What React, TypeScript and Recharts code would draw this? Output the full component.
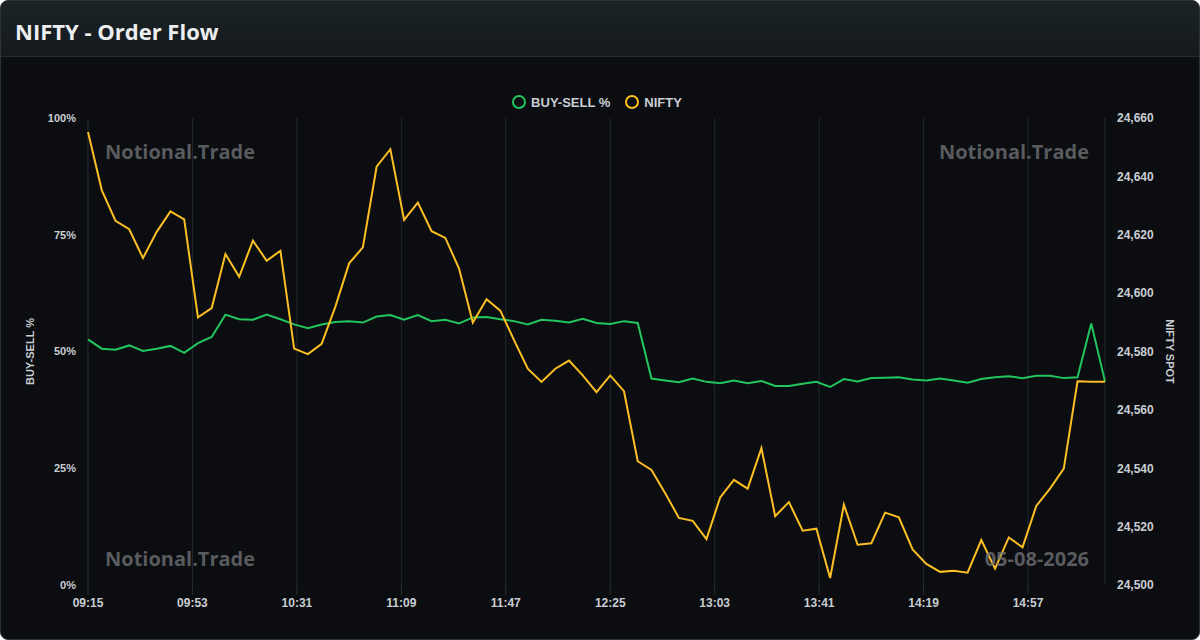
import { ComposedChart, Line, XAxis, YAxis, CartesianGrid, Legend } from 'recharts';

// 5-minute snapshots for the session
const times = [
  '09:15', '09:20', '09:25', '09:30', '09:35', '09:40', '09:45', '09:50', '09:55',
  '10:00', '10:05', '10:10', '10:15', '10:20', '10:25', '10:30', '10:35', '10:40', '10:45', '10:50', '10:55',
  '11:00', '11:05', '11:10', '11:15', '11:20', '11:25', '11:30', '11:35', '11:40', '11:45', '11:50', '11:55',
  '12:00', '12:05', '12:10', '12:15', '12:20', '12:25', '12:30', '12:35', '12:40', '12:45', '12:50', '12:55',
  '13:00', '13:05', '13:10', '13:15', '13:20', '13:25', '13:30', '13:35', '13:40', '13:45', '13:50', '13:55',
  '14:00', '14:05', '14:10', '14:15', '14:20', '14:25', '14:30', '14:35', '14:40', '14:45', '14:50', '14:55',
  '15:00', '15:05', '15:10', '15:15', '15:20', '15:25',
];

const buySellPct = [
  52.6, 50.6, 50.4, 51.3, 50.1, 50.6, 51.2, 49.7, 51.8,
  53.1, 57.9, 56.9, 56.8, 57.9, 56.9, 55.8, 55.0, 55.8, 56.3, 56.5, 56.2,
  57.5, 57.8, 56.8, 57.8, 56.5, 56.8, 56.0, 57.3, 57.4, 56.9, 56.5, 55.8,
  56.8, 56.6, 56.2, 57.0, 56.1, 55.9, 56.5, 56.1, 44.2, 43.8, 43.4, 44.2,
  43.5, 43.2, 43.8, 43.2, 43.7, 42.6, 42.6, 43.1, 43.5, 42.4, 44.1, 43.6,
  44.3, 44.4, 44.5, 44.0, 43.8, 44.2, 43.8, 43.3, 44.1, 44.5, 44.7, 44.3,
  44.8, 44.8, 44.3, 44.5, 56.0, 43.6,
];

const niftySpot = [
  24655.2, 24635.3, 24624.8, 24621.9, 24612.0, 24621.0, 24628.0, 24625.3, 24591.7,
  24594.9, 24613.4, 24605.6, 24618.0, 24611.1, 24614.5, 24581.0, 24579.1, 24582.6, 24595.4, 24610.2, 24615.7,
  24643.3, 24649.3, 24625.1, 24631.0, 24621.2, 24618.9, 24608.4, 24589.9, 24597.9, 24594.0, 24583.9, 24574.1,
  24569.6, 24574.1, 24576.9, 24571.8, 24566.1, 24571.8, 24566.4, 24542.4, 24539.4, 24531.4, 24523.0, 24522.0,
  24515.7, 24530.0, 24536.0, 24533.0, 24546.9, 24523.6, 24528.4, 24518.6, 24519.3, 24502.4, 24527.5, 24513.8,
  24514.3, 24524.8, 24523.2, 24512.2, 24507.2, 24504.5, 24504.9, 24504.2, 24515.4, 24505.6, 24516.3, 24512.9,
  24527.1, 24533.0, 24539.9, 24569.8, 24569.6, 24569.6,
];

const xTickLabels = ['09:15', '09:53', '10:31', '11:09', '11:47', '12:25', '13:03', '13:41', '14:19', '14:57'];
const pctTicks = [0, 25, 50, 75, 100];
const spotTicks = [24500, 24520, 24540, 24560, 24580, 24600, 24620, 24640, 24660];

const GREEN = '#22c55e';
const AMBER = '#fbbf24';
const TICK = '#c9cdd3';
const SANS = '"Liberation Sans", Arial, sans-serif';

// "HH:MM" -> minutes since midnight
const toMinutes = (t: string) => {
  const [h, m] = t.split(':').map(Number);
  return h * 60 + m;
};
const fromMinutes = (v: number) =>
  `${String(Math.floor(v / 60)).padStart(2, '0')}:${String(v % 60).padStart(2, '0')}`;

const chartData = times.map((t, i) => ({
  minute: toMinutes(t),
  buySell: buySellPct[i],
  nifty: niftySpot[i],
}));

function LegendContent({ payload }: any) {
  return (
    <div style={{ display: 'flex', justifyContent: 'center', gap: 14, height: 24, fontFamily: SANS, fontSize: 13, fontWeight: 700, color: '#c9ced6' }}>
      {(payload || []).map((p: any) => (
        <span key={p.value} style={{ display: 'flex', alignItems: 'center', gap: 4, height: 16 }}>
          <svg width={16} height={16}>
            <circle cx={8} cy={8} r={6} fill="none" stroke={p.color} strokeWidth={2} />
          </svg>
          <span>{p.value}</span>
        </span>
      ))}
    </div>
  );
}

// rotated axis title (left reads bottom-up, right reads top-down)
function AxisTitle({ viewBox, text, side }: any) {
  if (!viewBox) return null;
  const cx = side === 'left' ? viewBox.x + 2 : viewBox.x + viewBox.width + 5;
  const cy = viewBox.y + viewBox.height / 2;
  return (
    <text
      x={cx}
      y={cy}
      transform={`rotate(${side === 'left' ? -90 : 90} ${cx} ${cy})`}
      textAnchor="middle"
      dominantBaseline="central"
      fill={TICK}
      fontFamily={SANS}
      fontSize={11}
      fontWeight={700}
    >
      {text}
    </text>
  );
}

const watermark = {
  position: 'absolute' as const,
  fontFamily: '"Open Sans", sans-serif',
  fontWeight: 700,
  fontSize: 20,
  lineHeight: '20px',
  color: 'rgba(112, 114, 118, 0.78)',
  pointerEvents: 'none' as const,
  whiteSpace: 'nowrap' as const,
};

export default function App() {
  return (
    <div style={{ position: 'absolute', top: 0, left: 0, width: 1200, height: 640 }}>
      <div
        style={{
          position: 'relative',
          width: 1200,
          height: 640,
          boxSizing: 'border-box',
          border: '1px solid #2c3237',
          borderRadius: 8,
          background: '#0b0d10',
          overflow: 'hidden',
        }}
      >
        <div
          style={{
            height: 56,
            boxSizing: 'border-box',
            background: 'linear-gradient(180deg, #1c2327 0%, #141a1d 100%)',
            borderBottom: '1px solid #262d31',
            paddingLeft: 14,
            paddingTop: 5,
            display: 'flex',
            alignItems: 'center',
            fontFamily: '"Open Sans", sans-serif',
            fontWeight: 700,
            fontSize: 22,
            color: '#eceef0',
          }}
        >
          NIFTY - Order Flow
        </div>

        <div style={{ position: 'absolute', top: -1, left: -1 }}>
          <ComposedChart width={1200} height={640} data={chartData} margin={{ top: 94, right: 35, left: 28, bottom: 25 }}>
            <CartesianGrid yAxisId="pct" horizontal={false} stroke="#24282d" />
            <XAxis
              dataKey="minute"
              type="number"
              domain={[toMinutes(times[0]), toMinutes(times[times.length - 1])]}
              ticks={xTickLabels.map(toMinutes)}
              tickFormatter={fromMinutes}
              interval={0}
              axisLine={false}
              tickLine={{ stroke: '#2a2f35' }}
              tickSize={10}
              tickMargin={3}
              height={30}
              tick={{ fill: TICK, fontSize: 12, fontWeight: 700, fontFamily: SANS }}
            />
            <YAxis
              yAxisId="pct"
              domain={[0, 100]}
              ticks={pctTicks}
              tickFormatter={(v: number) => `${v}%`}
              axisLine={false}
              tickLine={false}
              tickMargin={6}
              width={60}
              tick={{ fill: TICK, fontSize: 11, fontWeight: 700, fontFamily: SANS }}
              label={<AxisTitle side="left" text="BUY-SELL %" />}
            />
            <YAxis
              yAxisId="spot"
              orientation="right"
              domain={[24500, 24660]}
              ticks={spotTicks}
              tickFormatter={(v: number) => v.toLocaleString('en-US')}
              axisLine={false}
              tickLine={false}
              tickMargin={6}
              width={60}
              tick={{ fill: TICK, fontSize: 12, fontWeight: 700, fontFamily: SANS }}
              label={<AxisTitle side="right" text="NIFTY SPOT" />}
            />
            <Legend verticalAlign="top" align="center" content={<LegendContent />} />
            <Line
              yAxisId="pct"
              type="linear"
              dataKey="buySell"
              name="BUY-SELL %"
              stroke={GREEN}
              strokeWidth={2}
              dot={false}
              isAnimationActive={false}
            />
            <Line
              yAxisId="spot"
              type="linear"
              dataKey="nifty"
              name="NIFTY"
              stroke={AMBER}
              strokeWidth={2}
              dot={false}
              isAnimationActive={false}
            />
          </ComposedChart>
        </div>

        <div style={{ ...watermark, left: 104, top: 141 }}>Notional.Trade</div>
        <div style={{ ...watermark, right: 110, top: 141 }}>Notional.Trade</div>
        <div style={{ ...watermark, left: 104, top: 548 }}>Notional.Trade</div>
        <div style={{ ...watermark, right: 110, top: 548 }}>05-08-2026</div>
      </div>
    </div>
  );
}
